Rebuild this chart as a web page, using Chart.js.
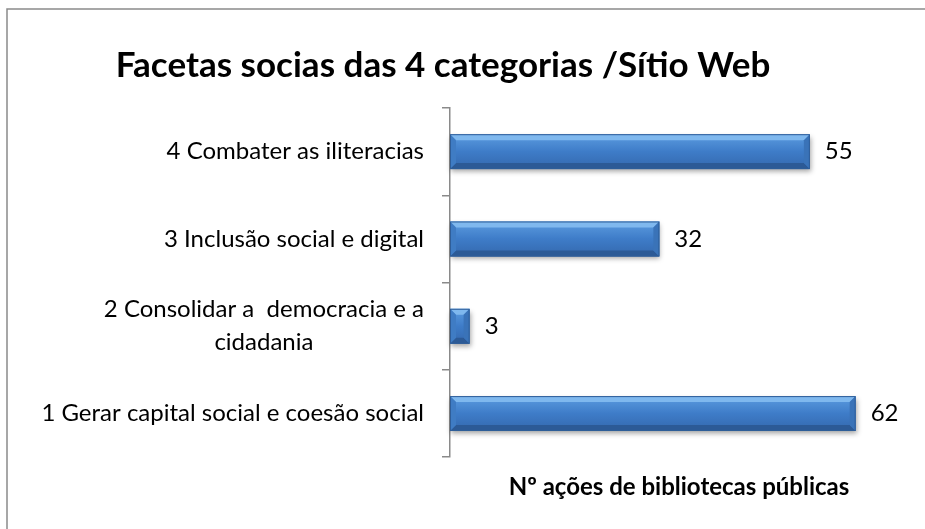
<!DOCTYPE html>
<html>
<head>
<meta charset="utf-8">
<script src="https://cdn.jsdelivr.net/npm/chart.js@4"></script>
<style>
    html, body { margin: 0; padding: 0; background: #fff; }
    #wrap { width: 925px; height: 529px; }
</style>
</head>
<body>
<div id="wrap"><canvas id="chart" width="925" height="529"></canvas></div>
<script>
// Chart data (Excel order: bottom to top, so listed top to bottom for Chart.js)
const chartTitle = 'Facetas socias das 4 categorias /Sítio Web';
const axisTitle = 'Nº ações de bibliotecas públicas';
const categories = [
    ['4 Combater as iliteracias'],
    ['3 Inclusão social e digital'],
    ['2 Consolidar a  democracia e a', 'cidadania'],
    ['1 Gerar capital social e coesão social']
];
const values = [55, 32, 3, 62];
const xMin = 0;
const xMax = 70;

const FONT = 'Lato, "Open Sans", sans-serif';

// Frame + title drawn on canvas
const framePlugin = {
    id: 'frame',
    beforeDraw(chart) {
        const ctx = chart.ctx;
        ctx.save();
        ctx.fillStyle = '#fff';
        ctx.fillRect(0, 0, chart.width, chart.height);
        ctx.strokeStyle = '#8a8a8a';
        ctx.lineWidth = 1.5;
        ctx.beginPath();
        ctx.moveTo(7, chart.height);
        ctx.lineTo(7, 9);
        ctx.lineTo(chart.width, 9);
        ctx.stroke();
        ctx.fillStyle = '#000';
        ctx.font = 'bold 35px ' + FONT;
        ctx.textAlign = 'center';
        ctx.textBaseline = 'middle';
        ctx.fillText(chartTitle, 443, 66);
        ctx.restore();
    }
};

// Category labels (multi-line one centered on itself, block right-aligned)
const labelPlugin = {
    id: 'catLabels',
    afterDraw(chart) {
        const ctx = chart.ctx;
        const scale = chart.scales.y;
        ctx.save();
        ctx.font = '24px ' + FONT;
        ctx.fillStyle = '#000';
        ctx.textBaseline = 'middle';
        ctx.textAlign = 'center';
        const right = scale.right - 26;
        const lh = 33;
        categories.forEach((lines, i) => {
            const y = scale.getPixelForValue(i);
            const widest = Math.max(...lines.map(l => ctx.measureText(l).width));
            const cx = right - widest / 2;
            const y0 = y - (lines.length - 1) * lh / 2;
            lines.forEach((l, j) => ctx.fillText(l, cx, y0 + j * lh));
        });
        ctx.restore();
    }
};

// Bevelled 3D-look bars + value labels
const barPlugin = {
    id: 'bevelBars',
    afterDatasetsDraw(chart) {
        const ctx = chart.ctx;
        const meta = chart.getDatasetMeta(0);
        ctx.save();
        meta.data.forEach((bar, i) => {
            const x0 = bar.base;
            const x1 = bar.x;
            const y0 = bar.y - bar.height / 2;
            const y1 = bar.y + bar.height / 2;
            const b = Math.min(6, (x1 - x0) / 2);

            // shadow + body
            ctx.save();
            ctx.shadowColor = 'rgba(0,0,0,0.35)';
            ctx.shadowBlur = 5;
            ctx.shadowOffsetY = 3;
            ctx.shadowOffsetX = 1;
            const g = ctx.createLinearGradient(0, y0, 0, y1);
            g.addColorStop(0, '#5c9ce0');
            g.addColorStop(0.5, '#3e7cc8');
            g.addColorStop(1, '#3468ad');
            ctx.fillStyle = g;
            ctx.fillRect(x0, y0, x1 - x0, y1 - y0);
            ctx.restore();

            // top facet
            ctx.fillStyle = '#7fb8ee';
            ctx.beginPath();
            ctx.moveTo(x0, y0); ctx.lineTo(x1, y0); ctx.lineTo(x1 - b, y0 + b); ctx.lineTo(x0 + b, y0 + b);
            ctx.closePath(); ctx.fill();
            // bottom facet
            ctx.fillStyle = '#2c5a96';
            ctx.beginPath();
            ctx.moveTo(x0, y1); ctx.lineTo(x1, y1); ctx.lineTo(x1 - b, y1 - b); ctx.lineTo(x0 + b, y1 - b);
            ctx.closePath(); ctx.fill();
            // right facet
            ctx.fillStyle = '#3a73b8';
            ctx.beginPath();
            ctx.moveTo(x1, y0); ctx.lineTo(x1, y1); ctx.lineTo(x1 - b, y1 - b); ctx.lineTo(x1 - b, y0 + b);
            ctx.closePath(); ctx.fill();
            // left facet
            ctx.fillStyle = '#3f7cc4';
            ctx.beginPath();
            ctx.moveTo(x0, y0); ctx.lineTo(x0, y1); ctx.lineTo(x0 + b, y1 - b); ctx.lineTo(x0 + b, y0 + b);
            ctx.closePath(); ctx.fill();
            // outline
            ctx.strokeStyle = '#2f5e99';
            ctx.lineWidth = 1;
            ctx.strokeRect(x0 + 0.5, y0 + 0.5, x1 - x0 - 1, y1 - y0 - 1);

            // value label
            ctx.fillStyle = '#000';
            ctx.font = '24px ' + FONT;
            ctx.textAlign = 'left';
            ctx.textBaseline = 'middle';
            ctx.fillText(String(values[i]), x1 + 15, bar.y);
        });
        ctx.restore();
    }
};

new Chart(document.getElementById('chart').getContext('2d'), {
    type: 'bar',
    data: {
        labels: categories,
        datasets: [{
            data: values,
            backgroundColor: 'rgba(0,0,0,0)',
            borderWidth: 0,
            barPercentage: 0.4,
            categoryPercentage: 1.0
        }]
    },
    options: {
        indexAxis: 'y',
        responsive: false,
        animation: false,
        layout: { padding: { top: 108, right: 17, bottom: 0, left: 0 } },
        plugins: {
            legend: { display: false },
            title: { display: false },
            tooltip: { enabled: false }
        },
        scales: {
            x: {
                min: xMin,
                max: xMax,
                grid: { display: false },
                border: { display: false },
                ticks: { display: false },
                title: {
                    display: true,
                    text: axisTitle,
                    color: '#000',
                    font: { family: FONT, size: 24, weight: 'bold' },
                    padding: { top: 8, bottom: 27 }
                }
            },
            y: {
                grid: {
                    display: true,
                    drawOnChartArea: false,
                    drawTicks: true,
                    tickLength: 8,
                    color: '#8a8a8a',
                    lineWidth: 1.5
                },
                border: { display: true, color: '#8a8a8a', width: 1.5 },
                ticks: { display: false },
                afterFit(scale) { scale.width = 450; }
            }
        }
    },
    plugins: [framePlugin, barPlugin, labelPlugin]
});
</script>
</body>
</html>
